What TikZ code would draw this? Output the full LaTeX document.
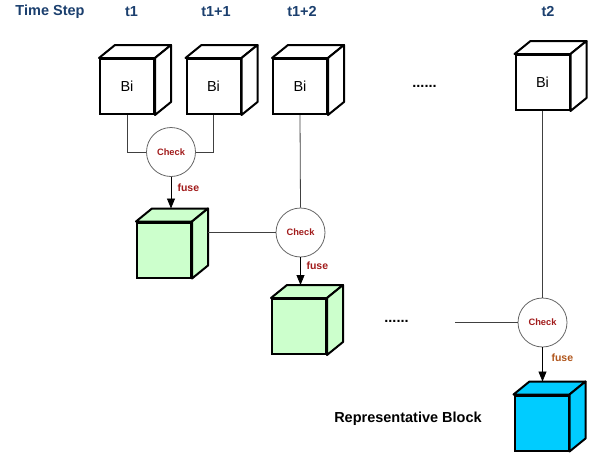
\documentclass[tikz,border=0pt]{standalone}
\usepackage{fontspec}
\setmainfont{Liberation Sans}
\usetikzlibrary{arrows.meta, positioning}
\definecolor{stepblue}{HTML}{1B3F6E}
\definecolor{checkred}{HTML}{A11B1B}
\definecolor{fusebrown}{HTML}{B0561C}
\definecolor{cubegreen}{HTML}{CCFFCC}
\definecolor{cubeblue}{HTML}{00CCFF}

\begin{document}
\begin{tikzpicture}[x=1pt,y=-1pt,
    front/.style={draw, line width=2pt, minimum width=54pt, minimum height=55pt, inner sep=0pt, font=\fontsize{14.5}{16}\selectfont},
    check/.style={draw=gray!80!black, line width=0.8pt, circle, minimum size=49pt, inner sep=0pt, text=checkred, font=\bfseries\fontsize{9.3}{11}\selectfont},
    head/.style={text=stepblue, font=\bfseries\fontsize{14.5}{16}\selectfont},
    fuselbl/.style={anchor=west, text=checkred, font=\bfseries\fontsize{10.5}{12}\selectfont},
    link/.style={line width=0.8pt, draw=black!75},
    fusearrow/.style={line width=0.8pt, -{Triangle[length=10pt,width=8pt]}},
    cubeedge/.style={line width=2pt, line join=round}]
    \useasboundingbox (0,0) rectangle (595,455);
    % time steps
    \node[head] (ts) at (50,12) {Time Step};
    \node[head] (h1) at (131.5,12) {t1};
    \node[head] (h2) at (216,12) {t1+1};
    \node[head] (h3) at (302,12) {t1+2};
    \node[head] (h4) at (548,12) {t2};
    % blocks
    \node[front] (b1) at (127,86.5) {Bi};
    \node[front] (b2) at (213.5,86.5) {Bi};
    \node[front] (b3) at (300,86.5) {Bi};
    \node[front] (b4) at (542.5,82.5) {Bi};
    \node[front, fill=cubegreen] (g1) at (164,250) {};
    \node[front, fill=cubegreen] (g2) at (299,326.5) {};
    \node[front, fill=cubeblue] (rb) at (541.5,423) {};
    \foreach \n/\c in {b1/white,b2/white,b3/white,b4/white,g1/cubegreen,g2/cubegreen,rb/cubeblue}{
        \draw[cubeedge, fill=\c] (\n.north west) -- ++(16,-13) -- ([shift={(16,-13)}]\n.north east) -- (\n.north east) -- cycle;
        \draw[cubeedge, fill=\c] (\n.north east) -- ++(16,-13) -- ([shift={(16,-13)}]\n.south east) -- (\n.south east) -- cycle;
        \coordinate (\n-top) at ([shift={(0,-13)}]\n.north);
        \coordinate (\n-side) at ([shift={(16,0)}]\n.east);
    }
    % checks
    \node[check] (c1) at (171,152) {Check};
    \node[check] (c2) at (300.5,232.5) {Check};
    \node[check] (c3) at (542.5,322.5) {Check};
    \node[font=\bfseries\fontsize{14.5}{16}\selectfont] (d1) at (424.5,86) {......};
    \node[font=\bfseries\fontsize{14.5}{16}\selectfont] (d2) at (396.5,321) {......};
    \coordinate (l3) at (455,322.5);
    \node[font=\bfseries\fontsize{14.5}{16}\selectfont] (rep) at (408,419) {Representative Block};
    % connectors
    \draw[link] (b1.south) |- (c1.west);
    \draw[link] (b2.south) |- (c1.east);
    \draw[link] (b3.south) -- (c2.north);
    \draw[link] (b4.south) -- (c3.north);
    \draw[link] (c2.west) -- (c2.west -| g1-side);
    \draw[link] (l3) -- (c3.west);
    \draw[fusearrow] (c1.south) -- (c1.south |- g1-top);
    \draw[fusearrow] (c2.south) -- (c2.south |- g2-top);
    \draw[fusearrow] (c3.south) -- (c3.south |- rb-top);
    \node[fuselbl] (f1) at (174,188) {fuse};
    \node[fuselbl] (f2) at (303,266) {fuse};
    \node[fuselbl, text=fusebrown] (f3) at (548,358) {fuse};
\end{tikzpicture}
\end{document}
